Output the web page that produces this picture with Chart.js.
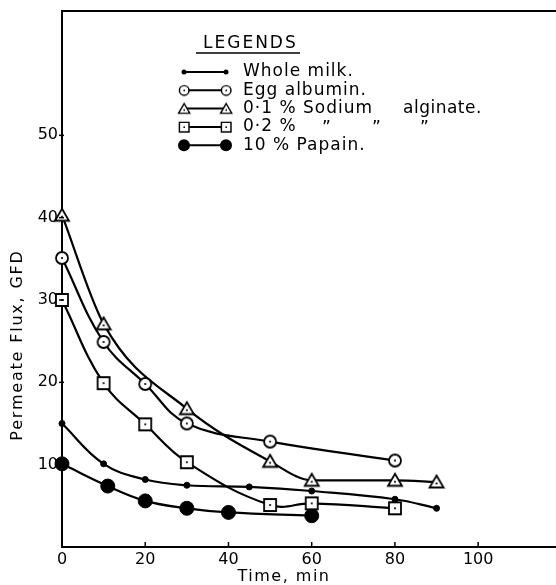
<!DOCTYPE html>
<html>
<head>
<meta charset="utf-8">
<script src="https://cdn.jsdelivr.net/npm/chart.js@4/dist/chart.umd.min.js"></script>
<style>
	html, body { margin: 0; padding: 0; background: #fff; }
	#wrap { width: 556px; height: 585px; position: relative; }
</style>
</head>
<body>
<div id="wrap"><canvas id="graphique"></canvas></div>
<script>
// valeurs (temps en min, flux en GFD)
const tempsLait = [0, 10, 20, 30, 45, 60, 80, 90];
const fluxLait = [15.0, 10.1, 8.2, 7.5, 7.3, 6.8, 5.8, 4.7];

const tempsOeuf = [0, 10, 20, 30, 50, 80];
const fluxOeuf = [35.1, 24.9, 19.8, 15.0, 12.8, 10.5];

const tempsAlginate1 = [0, 10, 30, 50, 60, 80, 90];
const fluxAlginate1 = [40.3, 27.1, 16.8, 10.4, 8.1, 8.1, 7.9];

const tempsAlginate2 = [0, 10, 20, 30, 50, 60, 80];
const fluxAlginate2 = [30.0, 19.9, 14.9, 10.3, 5.1, 5.3, 4.7];

const tempsPapaine = [0, 11, 20, 30, 40, 60];
const fluxPapaine = [10.1, 7.4, 5.6, 4.7, 4.2, 3.8];

const ticksX = [0, 20, 40, 60, 80, 100];
const ticksY = [10, 20, 30, 40, 50];

const legendes = ["Whole milk.", "Egg albumin.", "0·1 % Sodium", "0·2 %", "10 % Papain."];

const POLICE = "'DejaVu Sans', sans-serif";

// symboles dessines a la main (cercle, triangle, carre avec point central)
function symbole(forme, k){
	const c = document.createElement("canvas");
	const t = Math.round(18 * k);
	c.width = t; c.height = t;
	const ctx = c.getContext("2d");
	ctx.scale(k, k);
	ctx.strokeStyle = "#000";
	ctx.fillStyle = "#fff";
	ctx.lineWidth = 1.8;
	ctx.beginPath();
	if (forme === "cercle")
		ctx.arc(9, 9, 6, 0, Math.PI * 2);
	else if (forme === "triangle"){
		ctx.moveTo(9, 2.5); ctx.lineTo(16, 14.5); ctx.lineTo(2, 14.5); ctx.closePath();
	}
	else
		ctx.rect(3, 3, 12, 12);
	ctx.fill();
	ctx.stroke();
	ctx.fillStyle = "#000";
	ctx.beginPath();
	ctx.arc(9, forme === "triangle" ? 10.5 : 9, 1.1, 0, Math.PI * 2);
	ctx.fill();
	return c;
}
const symCercle = symbole("cercle", 1);
const symTriangle = symbole("triangle", 1);
const symCarre = symbole("carre", 1);
// plus petits pour la legende
const legCercle = symbole("cercle", 0.8);
const legTriangle = symbole("triangle", 0.8);
const legCarre = symbole("carre", 0.8);

function points(xs, ys){
	return xs.map((x, i) => ({x: x, y: ys[i]}));
}

function serie(label, xs, ys, style, rayon, fond, mode){
	return {
		label: label,
		data: points(xs, ys),
		borderColor: "#000",
		borderWidth: 2.2,
		pointStyle: style,
		pointRadius: rayon,
		pointBackgroundColor: fond,
		pointBorderColor: "#000",
		pointBorderWidth: 1,
		tension: 0.4,
		cubicInterpolationMode: mode || "default",
		clip: false,
		fill: false,
	};
}

const datasets = [
	serie(legendes[0], tempsLait, fluxLait, "circle", 3, "#000"),
	serie(legendes[1], tempsOeuf, fluxOeuf, symCercle, 6, "#fff"),
	serie(legendes[2], tempsAlginate1, fluxAlginate1, symTriangle, 6, "#fff", "monotone"),
	serie(legendes[3], tempsAlginate2, fluxAlginate2, symCarre, 6, "#fff"),
	serie(legendes[4], tempsPapaine, fluxPapaine, "circle", 7, "#000"),
];

// cadre, graduations internes, titres et legende
const decor = {
	id: "decor",
	afterDraw(chart){
		const ctx = chart.ctx;
		const a = chart.chartArea;
		const sx = chart.scales.x, sy = chart.scales.y;
		ctx.save();
		ctx.strokeStyle = "#000";
		ctx.lineWidth = 2;
		ctx.beginPath();
		ctx.moveTo(a.left, a.top); ctx.lineTo(556, a.top);
		ctx.stroke();
		ctx.lineWidth = 1.5;
		for (const t of ticksX){
			if (t === 0) continue;
			const px = sx.getPixelForValue(t);
			ctx.beginPath(); ctx.moveTo(px, a.bottom); ctx.lineTo(px, a.bottom - 5); ctx.stroke();
		}
		for (const t of ticksY){
			const py = sy.getPixelForValue(t);
			ctx.beginPath(); ctx.moveTo(a.left - 3, py); ctx.lineTo(a.left + 2, py); ctx.stroke();
		}

		// titres des axes
		ctx.fillStyle = "#000";
		ctx.font = "16px " + POLICE;
		ctx.letterSpacing = "1.5px";
		ctx.textAlign = "center";
		ctx.textBaseline = "middle";
		ctx.fillText("Time, min", 284, 577);
		ctx.save();
		ctx.letterSpacing = "1.8px";
		ctx.translate(18, 345);
		ctx.rotate(-Math.PI / 2);
		ctx.fillText("Permeate Flux, GFD", 0, 0);
		ctx.restore();

		// legende
		ctx.letterSpacing = "2px";
		ctx.font = "17px " + POLICE;
		ctx.textAlign = "left";
		ctx.fillText("LEGENDS", 203, 44);
		ctx.lineWidth = 1.5;
		ctx.beginPath(); ctx.moveTo(196, 53); ctx.lineTo(300, 53); ctx.stroke();

		ctx.letterSpacing = "1px";
		const x1 = 184, x2 = 226, y0 = 72, pas = 18.3;
		const marqueurs = ["petit", legCercle, legTriangle, legCarre, "gros"];
		for (let i = 0; i < legendes.length; i++){
			const y = y0 + i * pas;
			ctx.lineWidth = 2;
			ctx.beginPath(); ctx.moveTo(x1, y); ctx.lineTo(x2, y); ctx.stroke();
			for (const px of [x1, x2]){
				const m = marqueurs[i];
				if (m === "petit" || m === "gros"){
					ctx.beginPath();
					ctx.arc(px, y, m === "petit" ? 2.5 : 6, 0, Math.PI * 2);
					ctx.fill();
				}
				else
					ctx.drawImage(m, px - m.width / 2, y - m.height / 2);
			}
			ctx.fillText(legendes[i], 243, y);
		}
		ctx.letterSpacing = "0.5px";
		ctx.fillText("alginate.", 403, y0 + 2 * pas);
		ctx.fillText("\u201D", 322, y0 + 3 * pas + 2);
		ctx.fillText("\u201D", 372, y0 + 3 * pas + 2);
		ctx.fillText("\u201D", 420, y0 + 3 * pas + 2);
		ctx.restore();
	}
};

new Chart(document.querySelector("#graphique"), {
	type: "line",
	data: {datasets: datasets},
	options: {
		responsive: true,
		maintainAspectRatio: false,
		animation: false,
		events: [],
		layout: {autoPadding: false, padding: {top: 11, right: 0, left: 0, bottom: 0}},
		plugins: {legend: {display: false}, tooltip: {enabled: false}},
		scales: {
			x: {
				type: "linear",
				min: 0,
				max: 118.7,
				afterFit: (s) => { s.height = 38; s.paddingRight = 0; },
				afterBuildTicks: (s) => { s.ticks = ticksX.map(v => ({value: v})); },
				grid: {display: false, drawTicks: false},
				border: {display: true, color: "#000", width: 2},
				ticks: {color: "#000", font: {family: POLICE, size: 16}, padding: 3, maxRotation: 0},
			},
			y: {
				type: "linear",
				min: 0,
				max: 65.1,
				afterFit: (s) => { s.width = 62; s.paddingTop = 0; },
				afterBuildTicks: (s) => { s.ticks = ticksY.map(v => ({value: v})); },
				grid: {display: false, drawTicks: false},
				border: {display: true, color: "#000", width: 2},
				ticks: {color: "#000", font: {family: POLICE, size: 16}, padding: 4},
			},
		},
	},
	plugins: [decor],
});
</script>
</body>
</html>
